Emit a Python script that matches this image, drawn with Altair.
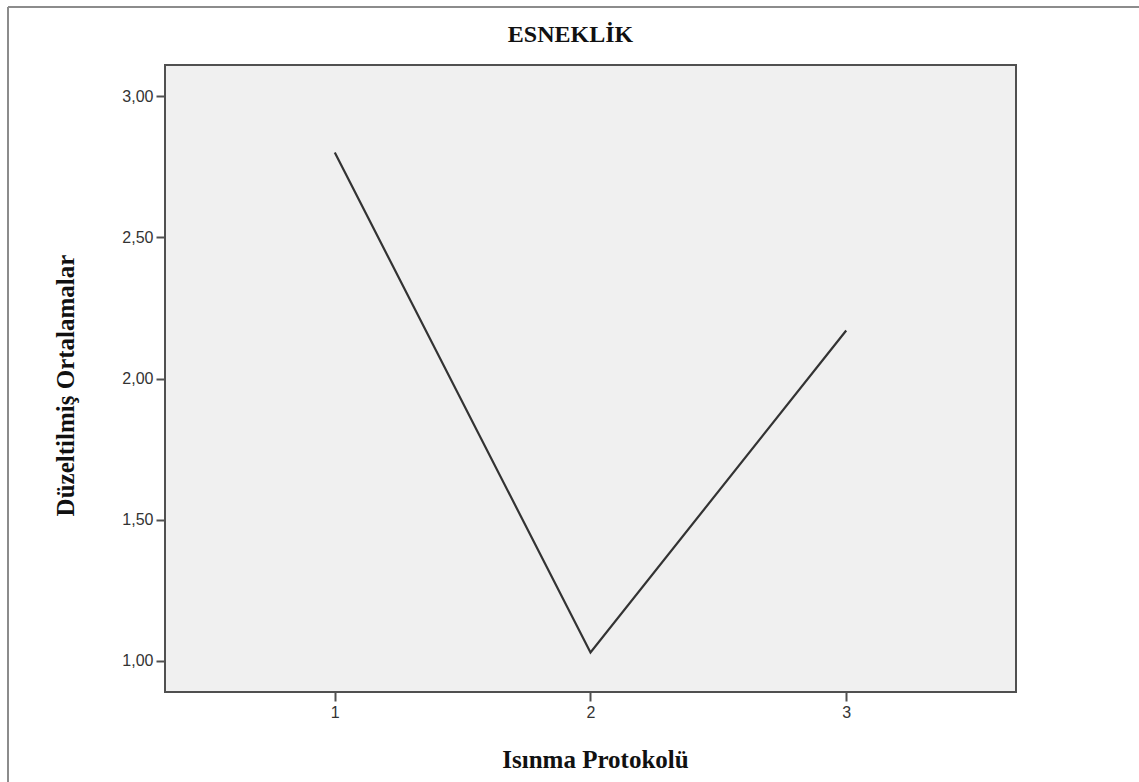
import altair as alt
import pandas as pd

protocol = [1, 2, 3]
means = [2.80, 1.03, 2.17]
y_ticks = [1.0, 1.5, 2.0, 2.5, 3.0]
x_ticks = [1, 2, 3]

df = pd.DataFrame({"protocol": protocol, "mean": means})

W, H = 851, 627
LEFT, TOP = 165, 65

line = alt.Chart(df).mark_line(color="#333333", strokeWidth=2.2).encode(
    x=alt.X("protocol:Q",
            scale=alt.Scale(domain=[0.336, 3.664], nice=False, zero=False),
            axis=alt.Axis(values=x_ticks, format="d", title="Isınma Protokolü",
                          grid=False, domain=False, tickSize=9, tickWidth=2,
                          tickColor="#505050", labelPadding=3, labelFontSize=16,
                          labelColor="#333333", labelFont="Liberation Sans",
                          titleFont="Liberation Serif", titleFontSize=25,
                          titleFontWeight="bold", titleColor="#111111",
                          titleX=430, titleY=75, titleBaseline="alphabetic",
                          titleAlign="center")),
    y=alt.Y("mean:Q",
            scale=alt.Scale(domain=[0.89, 3.11], nice=False, zero=False),
            axis=alt.Axis(values=y_ticks,
                          labelExpr="replace(format(datum.value, '.2f'), '.', ',')",
                          title="Düzeltilmiş Ortalamalar",
                          grid=False, domain=False, tickSize=9, tickWidth=2,
                          tickColor="#505050", labelPadding=3, labelFontSize=16,
                          labelColor="#333333", labelFont="Liberation Sans",
                          titleFont="Liberation Serif", titleFontSize=25,
                          titleFontWeight="bold", titleColor="#111111",
                          titleAngle=270, titleX=-92, titleY=320,
                          titleBaseline="alphabetic", titleAlign="center")),
)

frame_df = pd.DataFrame({"k": [0]})
frame_top = alt.Chart(frame_df).mark_rule(color="#8c8c8c", strokeWidth=2).encode(
    x=alt.value(8 - LEFT), x2=alt.value(1139 - LEFT), y=alt.value(7 - TOP))
frame_left = alt.Chart(frame_df).mark_rule(color="#8c8c8c", strokeWidth=2).encode(
    x=alt.value(8 - LEFT), y=alt.value(7 - TOP), y2=alt.value(782 - TOP))

chart = alt.layer(frame_top, frame_left, line).properties(
    width=W, height=H,
    title=alt.TitleParams("ESNEKLİK", font="Liberation Serif", fontSize=24,
                          fontWeight="bold", color="#111111", anchor="middle",
                          offset=-60, baseline="alphabetic", dx=-20),
    autosize=alt.AutoSizeParams(type="none"),
    padding={"left": LEFT, "top": TOP, "right": 1139 - LEFT - W, "bottom": 782 - TOP - H},
    background="white",
).configure_view(
    fill="#f0f0f0", stroke="#505050", strokeWidth=2
)

chart.save("out.html", embed_options={"renderer": "svg", "actions": False})
